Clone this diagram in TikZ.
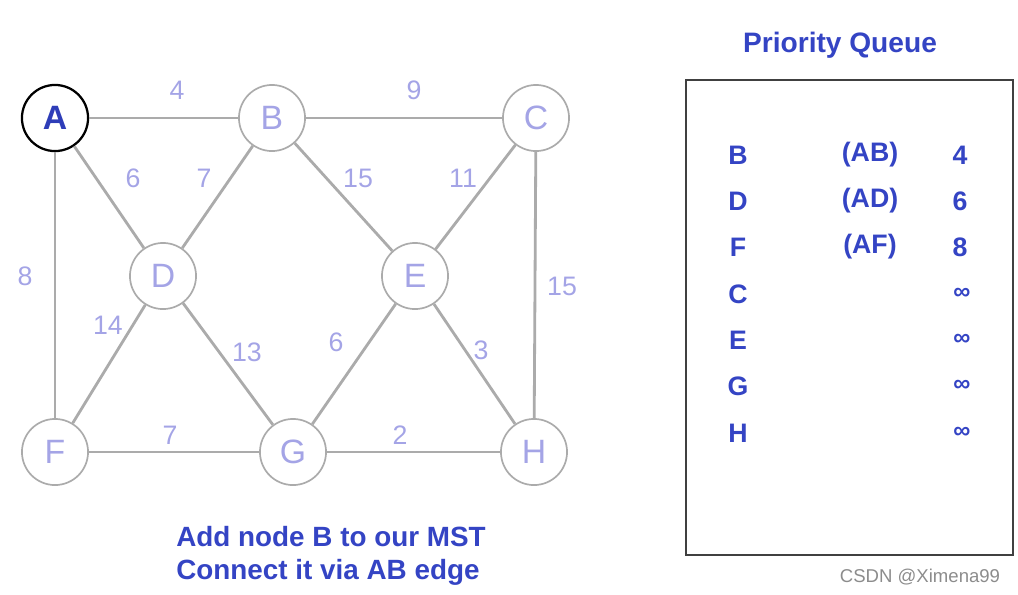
\documentclass[tikz,border=0pt]{standalone}
\usepackage{fontspec}
\setmainfont{Liberation Sans}
\usepackage{xcolor}
\usetikzlibrary{positioning}

\definecolor{vertexblue}{HTML}{A4A4E6}
\definecolor{edgegray}{HTML}{ABABAB}
\definecolor{darkblue}{HTML}{2E3DB8}
\definecolor{queueblue}{HTML}{3444C4}

\tikzset{
  vertex/.style={draw=edgegray, line width=1.2pt, circle, fill=white, minimum size=47pt, inner sep=0pt,
    text=vertexblue, font=\fontsize{24}{26}\selectfont},
  start/.style={vertex, draw=black, line width=1.6pt, text=darkblue, font=\fontsize{24}{26}\selectfont\bfseries},
  edge/.style={draw=edgegray, line width=2pt},
  weight/.style={text=vertexblue, font=\fontsize{19}{21}\selectfont},
  queue/.style={text=queueblue, font=\fontsize{19}{22}\selectfont\bfseries},
  infty/.style={queue, font=\fontsize{17}{20}\selectfont\bfseries},
  caption/.style={text=queueblue, font=\fontsize{19.8}{23}\selectfont\bfseries, align=left}
}

\begin{document}
\begin{tikzpicture}[x=0.025cm, y=-0.025cm]
        \useasboundingbox (0,0) rectangle (1018,594);
        % Grafo
        \node[start] (A) at (55,118) {A};
        \node[vertex] (B) at (272,118) {B};
        \node[vertex] (C) at (536,118) {C};
        \node[vertex] (D) at (163,276) {D};
        \node[vertex] (E) at (415,276) {E};
        \node[vertex] (F) at (55,452) {F};
        \node[vertex] (G) at (293,452) {G};
        \node[vertex] (H) at (534,452) {H};

        \draw[edge] (A) -- (B);
        \draw[edge] (B) -- (C);
        \draw[edge] (A) -- (D);
        \draw[edge] (B) -- (D);
        \draw[edge] (B) -- (E);
        \draw[edge] (C) -- (E);
        \draw[edge] (A) -- (F);
        \draw[edge] (C) -- (H);
        \draw[edge] (D) -- (F);
        \draw[edge] (D) -- (G);
        \draw[edge] (E) -- (G);
        \draw[edge] (E) -- (H);
        \draw[edge] (F) -- (G);
        \draw[edge] (G) -- (H);

        % Pesos
        \node[weight] (wab) at (177,90) {4};
        \node[weight] (wbc) at (414,90) {9};
        \node[weight] (wad) at (133,178) {6};
        \node[weight] (wbd) at (204,178) {7};
        \node[weight] (wbe) at (358,178) {15};
        \node[weight] (wce) at (463,178) {11};
        \node[weight] (waf) at (25,276) {8};
        \node[weight] (wch) at (562,286) {15};
        \node[weight] (wdf) at (108,325) {14};
        \node[weight] (wdg) at (247,352) {13};
        \node[weight] (weg) at (336,342) {6};
        \node[weight] (weh) at (481,350) {3};
        \node[weight] (wfg) at (170,435) {7};
        \node[weight] (wgh) at (400,435) {2};

        \node[caption] (msg) at (331,556) {Add node B to our MST\\Connect it via AB edge};

        % Cola de prioridad
        \node[queue, font=\fontsize{20}{22}\selectfont\bfseries] (title) at (840,45) {Priority Queue};
        \node[draw=black!75, line width=1pt, minimum width=8.175cm, minimum height=11.875cm, inner sep=0pt] (box) at (849.5,317.5) {};

        \node[queue] (qB) at (738,155) {B};
        \node[queue] (qD) at (738,201) {D};
        \node[queue] (qF) at (738,247) {F};
        \node[queue] (qC) at (738,294) {C};
        \node[queue] (qE) at (738,340) {E};
        \node[queue] (qG) at (738,386) {G};
        \node[queue] (qH) at (738,433) {H};
        \node[queue] (eB) at (870,155) {(AB)};
        \node[queue] (eD) at (870,201) {(AD)};
        \node[queue] (eF) at (870,247) {(AF)};
        \node[queue] (kB) at (960,155) {4};
        \node[queue] (kD) at (960,201) {6};
        \node[queue] (kF) at (960,247) {8};
        \node[infty] (kC) at (962,294) {∞};
        \node[infty] (kE) at (962,340) {∞};
        \node[infty] (kG) at (962,386) {∞};
        \node[infty] (kH) at (962,433) {∞};

        \node[text=black!45, font=\fontsize{13.2}{15}\selectfont] (mark) at (920,577) {CSDN @Ximena99};
    \end{tikzpicture}
\end{document}
